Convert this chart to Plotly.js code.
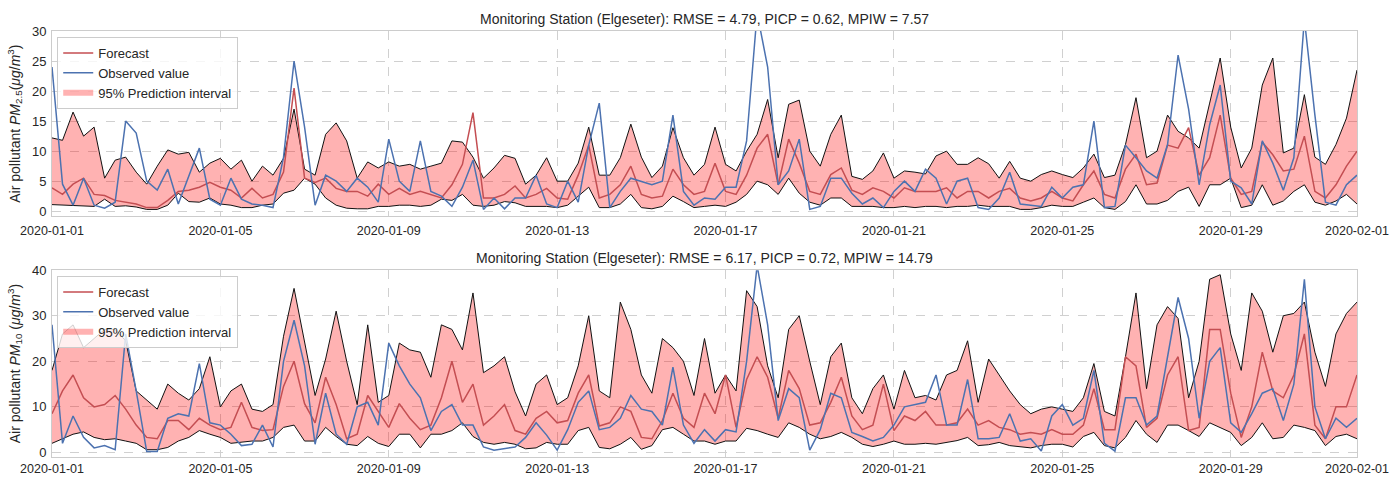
<!DOCTYPE html>
<html><head><meta charset="utf-8">
<script src="https://cdn.plot.ly/plotly-3.0.1.min.js"></script>
<style>html,body{margin:0;padding:0;background:#fff}#chart{width:1392px;height:477px}</style>
</head><body><div id="chart"></div>
<script>
// Sampling: every 6 hours starting 2020-01-01 00:00
const startDate = '2020-01-01';
const stepHours = 6;
const tickDates = ['2020-01-01','2020-01-05','2020-01-09','2020-01-13','2020-01-17','2020-01-21','2020-01-25','2020-01-29','2020-02-01'];

const titlePM25 = 'Monitoring Station (Elgeseter): RMSE = 4.79, PICP = 0.62, MPIW = 7.57';
const titlePM10 = 'Monitoring Station (Elgeseter): RMSE = 6.17, PICP = 0.72, MPIW = 14.79';

// PM2.5
const pm25Upper = [12.2,11.8,16.5,12.5,14.0,5.5,8.5,9.0,6.5,4.5,7.5,10.2,9.5,9.8,6.5,8.0,8.8,7.0,
 8.5,5.0,7.5,6.0,8.8,17,7.0,6.0,12.8,14.7,11.7,5.5,8.2,7.2,8.2,7.5,7.8,7.0,7.5,8.0,11.7,11.5,
 9,5.5,7.2,9.3,8.8,4.5,6.0,8.9,5.0,5.0,8.0,14,6.0,6.0,8.9,14.5,9.0,5.6,7.5,13.9,8.9,6.0,
 7.8,14,7.8,6.7,10.0,12.8,18.6,8.9,17.8,18.5,10.0,7.5,12.8,16.0,5.8,5.3,6.7,9.7,5.5,6.7,6.5,6.2,
 9.2,10.0,7.8,7.8,8.9,7.9,5.5,8.3,5.5,5.0,6.1,6.7,6.1,5.6,7.2,9.5,5.6,6.0,11.1,18.9,8.9,10.0,
 16,13.3,12.2,10.5,18.0,25.5,14,7.2,10.5,21,25.5,9.7,10.5,19.4,9.0,7.8,11.1,15.5,23.5];
const pm25Lower = [1.1,1.0,1.0,0.9,0.8,2.0,0.8,0.9,0.7,0.3,0.3,1.0,3.0,1.6,1.5,2.2,1.2,1.0,
 0.6,0.6,1.0,1.2,3.0,3.5,5.5,4.5,2.2,1.0,0.5,0.4,0.4,0.8,0.8,1.0,1.0,0.8,1.0,2.0,1.8,2.8,
 1.0,0.8,1.0,1.6,1.4,0.8,0.8,0.8,0.6,1.0,2.5,4.0,0.6,0.6,1.2,2.8,0.6,0.4,0.8,2.5,1.6,0.6,
 0.8,1.0,0.8,1.5,2.8,5.0,4.4,2.8,5.5,3.0,1.5,1.0,2.2,2.2,0.8,0.8,0.8,0.6,0.6,0.8,0.6,0.8,
 0.8,0.6,0.8,0.8,1.0,0.8,0.8,0.8,0.3,0.3,0.6,1.0,0.8,0.8,1.5,2.2,0.6,0.3,1.6,4.4,1.2,1.2,
 1.8,3.3,4.0,0.8,4.4,4.4,5.5,0.6,1.0,4.4,1.0,1.7,3.3,4.4,1.5,1.0,1.7,2.8,1.2];
const pm25Forecast = [3.9,2.8,4.5,5.5,2.8,2.6,1.8,1.5,1.2,0.6,0.6,1.8,3.3,3.5,4.0,4.8,4.0,3.5,
 2.2,3.8,2.2,2.8,6.5,20.5,5.5,4.8,5.5,3.8,3.3,3.3,2.5,4.5,2.8,3.8,2.8,3.3,2.8,2.2,4.4,7.8,
 16.4,2.2,2.2,2.8,4.2,2.2,2.8,3.8,2.2,2.0,6.0,11.0,2.2,2.8,4.4,7.5,2.8,2.2,2.5,7.0,4.4,2.8,
 3.3,8.0,3.3,2.8,6.0,10.5,12.8,4.4,12.0,8.0,3.3,2.8,6.1,7.2,3.5,2.8,3.9,3.3,2.2,3.9,3.3,3.3,
 3.3,3.9,2.2,3.3,3.3,2.2,3.3,3.8,2.2,1.7,2.2,3.3,2.2,1.7,4.4,6.7,2.8,2.2,7.0,9.5,4.4,4.7,
 11.0,10.5,13.9,6.0,8.9,16.0,5.5,2.8,3.3,11.5,9.4,6.7,7.0,12.5,3.3,2.2,4.4,7.5,10.0];
const pm25Observed = [24,4.5,1.0,5.5,1.0,0.5,1.5,15,13,5,3.5,7,1.2,6,10.5,2,1,5.5,
 2.0,1.2,1.0,0.6,9,25,14,1.0,6.0,5.0,3.3,5.5,4.0,1.5,12,5,3.3,11.7,3.3,2.5,0.8,4.0,
 8.5,0.3,2.2,0.4,2.2,2.2,6.0,1.2,0.6,5.0,1.5,11,18,0.6,3.3,5.5,5.0,4.4,5.0,16,3.3,1.0,
 2.2,2.0,4.0,4.0,11.7,33,24,4.4,6.7,12,0.3,0.8,5.5,5.5,3.0,1.2,2.2,0.6,3.3,5.0,3.3,7.0,
 5.5,1.2,5.0,5.5,0.6,0.3,2.2,6.5,1.2,1.0,0.8,4.0,2.2,4.0,4.4,15.0,0.6,0.8,11.0,8.9,6.7,5.5,
 11.1,26,17,4.4,14.4,21,5.0,3.9,1.2,11.7,8.0,3.5,8.9,32,16,1.5,1.0,4.4,6.0];

// PM10
const pm10Upper = [18,26,28,23,25,27,27,24.5,13.5,11.5,9.5,15,13,11.5,14,21,10,13.5,
 15,9.5,9.0,10.5,25.5,36,24,12.5,20.5,31,20,10.5,28,11,12.5,24,22.5,22,16.5,28,27,22.5,
 35,17.5,19,21,13.3,8.0,15,17,10.5,12,19,30,13.5,12,33,27,17,13,25,23,20,12.5,
 25,13,17,13.5,35.5,32,19,12,27,30,20,10.5,21,24,12,8.5,14,17,9.5,18,12,12.5,
 11.5,17,18,24.5,11,20.5,17,13.5,10.5,8.5,9.5,10,9.5,9.0,12,19.5,9.0,8.0,21,35,14,28,
 32,29.4,12,20,38,39,26,18,35,31,22,30,30.5,33,22,14.5,26,30.5,33];
const pm10Lower = [2.0,3.0,4.0,4.5,3.3,2.8,3.0,2.5,2.0,0.6,0.6,1.1,2.5,3.3,4.8,4.0,3.3,2.0,
 2.2,2.5,2.5,3.3,5.5,6.0,2.5,2.5,5.5,3.5,1.8,1.5,3.5,2.0,1.3,4.0,4.0,1.0,4.0,4.0,4.8,6.5,
 3.5,2.2,1.8,2.2,1.8,0.8,1.0,2.2,1.8,1.8,4.8,5.5,1.1,0.8,1.8,3.3,0.7,1.5,5.0,5.5,4.0,2.5,
 2.5,1.8,2.5,2.5,5.3,4.8,4.0,3.3,6.5,5.5,4.0,3.0,3.5,4.4,3.3,1.8,1.3,1.8,2.5,1.8,1.8,2.0,
 1.8,2.2,2.6,3.3,1.5,1.7,2.2,1.5,1.2,1.0,1.5,1.8,1.8,1.2,3.5,4.4,1.5,1.0,3.3,7.0,4.0,2.2,
 6.0,6.0,4.8,3.5,6.5,5.5,4.4,1.5,3.3,6.5,3.0,3.3,6.0,5.5,4.8,1.5,3.5,4.0,3.0];
const pm10Forecast = [8.5,13.5,17,12,10,10.5,12.5,9.5,6.0,3.3,3.0,7.0,7.0,5.0,7.5,6.0,5.0,5.5,
 11,5.5,4.8,5.0,14.5,20,10.7,6.5,16.5,10.5,3.0,4.0,12.5,9.0,5.5,10.7,7.5,5.0,6.0,12,20,11,
 15,6.0,8.0,10.5,4.8,4.0,7.5,9.0,6.5,7.0,13,17,5.8,6.5,10,9.0,3.3,3.0,7,13,7.5,5.5,
 13,8.5,17,5.5,16,21,16.5,7.5,18,14,6.0,6.5,11,16.5,8.0,5.0,6.0,15,4.8,8.0,7.0,9.0,
 6.0,6.0,6.5,9.5,6.0,7.0,5.5,5.0,4.0,4.4,4.0,5.0,4.0,4.0,6.0,14,5.0,5.0,21,19,5.5,7.5,
 17,21,4.8,5.5,27,27,13,3.3,10,22,13.5,12,17,26,6.0,3.0,10,10,17];
const pm10Observed = [28,2.0,8.0,3.3,1.0,1.5,0.6,26,13.5,0.2,0.2,7.5,8.5,8.0,19.5,6.5,6.0,4.0,
 1.5,1.8,6.0,1.2,20,29,19,1.8,13,4.0,1.8,10,11,6.0,24,19,15,12,4.8,9.0,10.5,6.0,
 6,1.2,0.5,0.8,1.2,3.3,6.5,3.8,0.5,5.0,11,13.5,5.0,5.5,7.5,12.5,9.5,9.0,6.0,18.7,6.0,2.0,
 5.0,2.5,5.0,4.5,20,41,28,7,14,12,0.5,5.0,13,12,4.4,3.5,2.5,3.3,6.0,10,10.5,11,
 17,6.0,6.0,16,3.0,3.0,3.3,8.5,2.5,3.0,0.3,8.0,10.5,6.0,7.5,18,2.0,0.3,12,12,6.0,8,
 21,34,25,7.5,20,23,6.5,4.4,8.5,13,14,7.0,15,38,10,3.0,7.5,5.5,7.5];

function pad(n){return (n<10?'0':'')+n;}
function timeAxis(n){
  const t0 = Date.parse(startDate+'T00:00:00Z');
  const out = [];
  for(let i=0;i<n;i++){
    const d = new Date(t0 + i*stepHours*3600000);
    out.push(d.getUTCFullYear()+'-'+pad(d.getUTCMonth()+1)+'-'+pad(d.getUTCDate())+' '+pad(d.getUTCHours())+':00');
  }
  return out;
}

const RED='#c44e52', BLUE='#4c72b0', FILL='rgba(255,0,0,0.3)';
function panel(up, lo, fc, ob, xa, ya, leg){
  return [
    {x:timeAxis(lo.length), y:lo, xaxis:xa, yaxis:ya, mode:'lines', line:{color:'#111',width:1}, showlegend:false, hoverinfo:'skip'},
    {x:timeAxis(up.length), y:up, xaxis:xa, yaxis:ya, mode:'lines', line:{color:'#111',width:1}, fill:'tonexty', fillcolor:FILL, showlegend:false, hoverinfo:'skip'},
    {x:timeAxis(fc.length), y:fc, xaxis:xa, yaxis:ya, mode:'lines', name:'Forecast', line:{color:RED,width:1.5}, legend:leg, legendrank:1},
    {x:timeAxis(ob.length), y:ob, xaxis:xa, yaxis:ya, mode:'lines', name:'Observed value', line:{color:BLUE,width:1.5}, legend:leg, legendrank:2},
    {x:[null], y:[null], xaxis:xa, yaxis:ya, mode:'none', fill:'toself', fillcolor:'rgba(255,0,0,0.3)', name:'95% Prediction interval', legend:leg, legendrank:3}
  ];
}
const data = panel(pm25Upper, pm25Lower, pm25Forecast, pm25Observed, 'x', 'y', 'legend')
  .concat(panel(pm10Upper, pm10Lower, pm10Forecast, pm10Observed, 'x2', 'y2', 'legend2'));

const FONT = 'Liberation Sans, Arial, sans-serif';
const TXT = '#262626';
function xax(anchor, standoff){
  return {anchor:anchor, domain:[0,1], type:'date', range:['2020-01-01','2020-02-01'],
    tickvals:tickDates, ticktext:tickDates, showgrid:true, gridcolor:'#d0d0d0', griddash:'dash', gridwidth:1,
    showline:true, mirror:true, linecolor:'#cccccc', linewidth:1, ticks:'', zeroline:false, ticklabelstandoff:standoff,
    tickfont:{family:FONT,size:12.5,color:TXT}};
}
function yax(anchor, dom, rng, dt, title){
  return {anchor:anchor, domain:dom, range:rng, dtick:dt, tick0:0, showgrid:true, gridcolor:'#d0d0d0', griddash:'dash', gridwidth:1,
    showline:true, mirror:true, linecolor:'#cccccc', linewidth:1, ticks:'', zeroline:false, ticklabelstandoff:2,
    tickfont:{family:FONT,size:13,color:TXT},
    title:{text:title, font:{family:FONT,size:14,color:TXT}, standoff:8}};
}
const legendStyle = (y)=>({x:0.004, y:y, xanchor:'left', yanchor:'top', bgcolor:'rgba(255,255,255,0.8)', bordercolor:'#cccccc', borderwidth:1,
  font:{family:FONT,size:13,color:TXT}, itemwidth:30, tracegroupgap:0, traceorder:'normal'});

const layout = {
  width:1392, height:477, margin:{l:52, r:35, t:31, b:20},
  paper_bgcolor:'#fff', plot_bgcolor:'#fff', showlegend:true,
  xaxis:xax('y',3), yaxis:yax('x',[0.565,1],[-0.85,30],5,'Air pollutant <i>PM</i><sub>2.5</sub>(<i>μg</i>/<i>m</i><sup>3</sup>)'),
  xaxis2:xax('y2',0), yaxis2:yax('x2',[0,0.4386],[-1,40],10,'Air pollutant <i>PM</i><sub>10</sub> (<i>μg</i>/<i>m</i><sup>3</sup>)'),
  legend:legendStyle(0.986), legend2:legendStyle(0.425),
  annotations:[
    {text:titlePM25, xref:'paper', yref:'paper', x:0.5, y:1, yshift:2, xanchor:'center', yanchor:'bottom', showarrow:false, font:{family:FONT,size:14,color:TXT}},
    {text:titlePM10, xref:'paper', yref:'paper', x:0.5, y:0.4386, yshift:2, xanchor:'center', yanchor:'bottom', showarrow:false, font:{family:FONT,size:14,color:TXT}}
  ]
};
Plotly.newPlot('chart', data, layout, {displayModeBar:false, staticPlot:true});
</script></body></html>
